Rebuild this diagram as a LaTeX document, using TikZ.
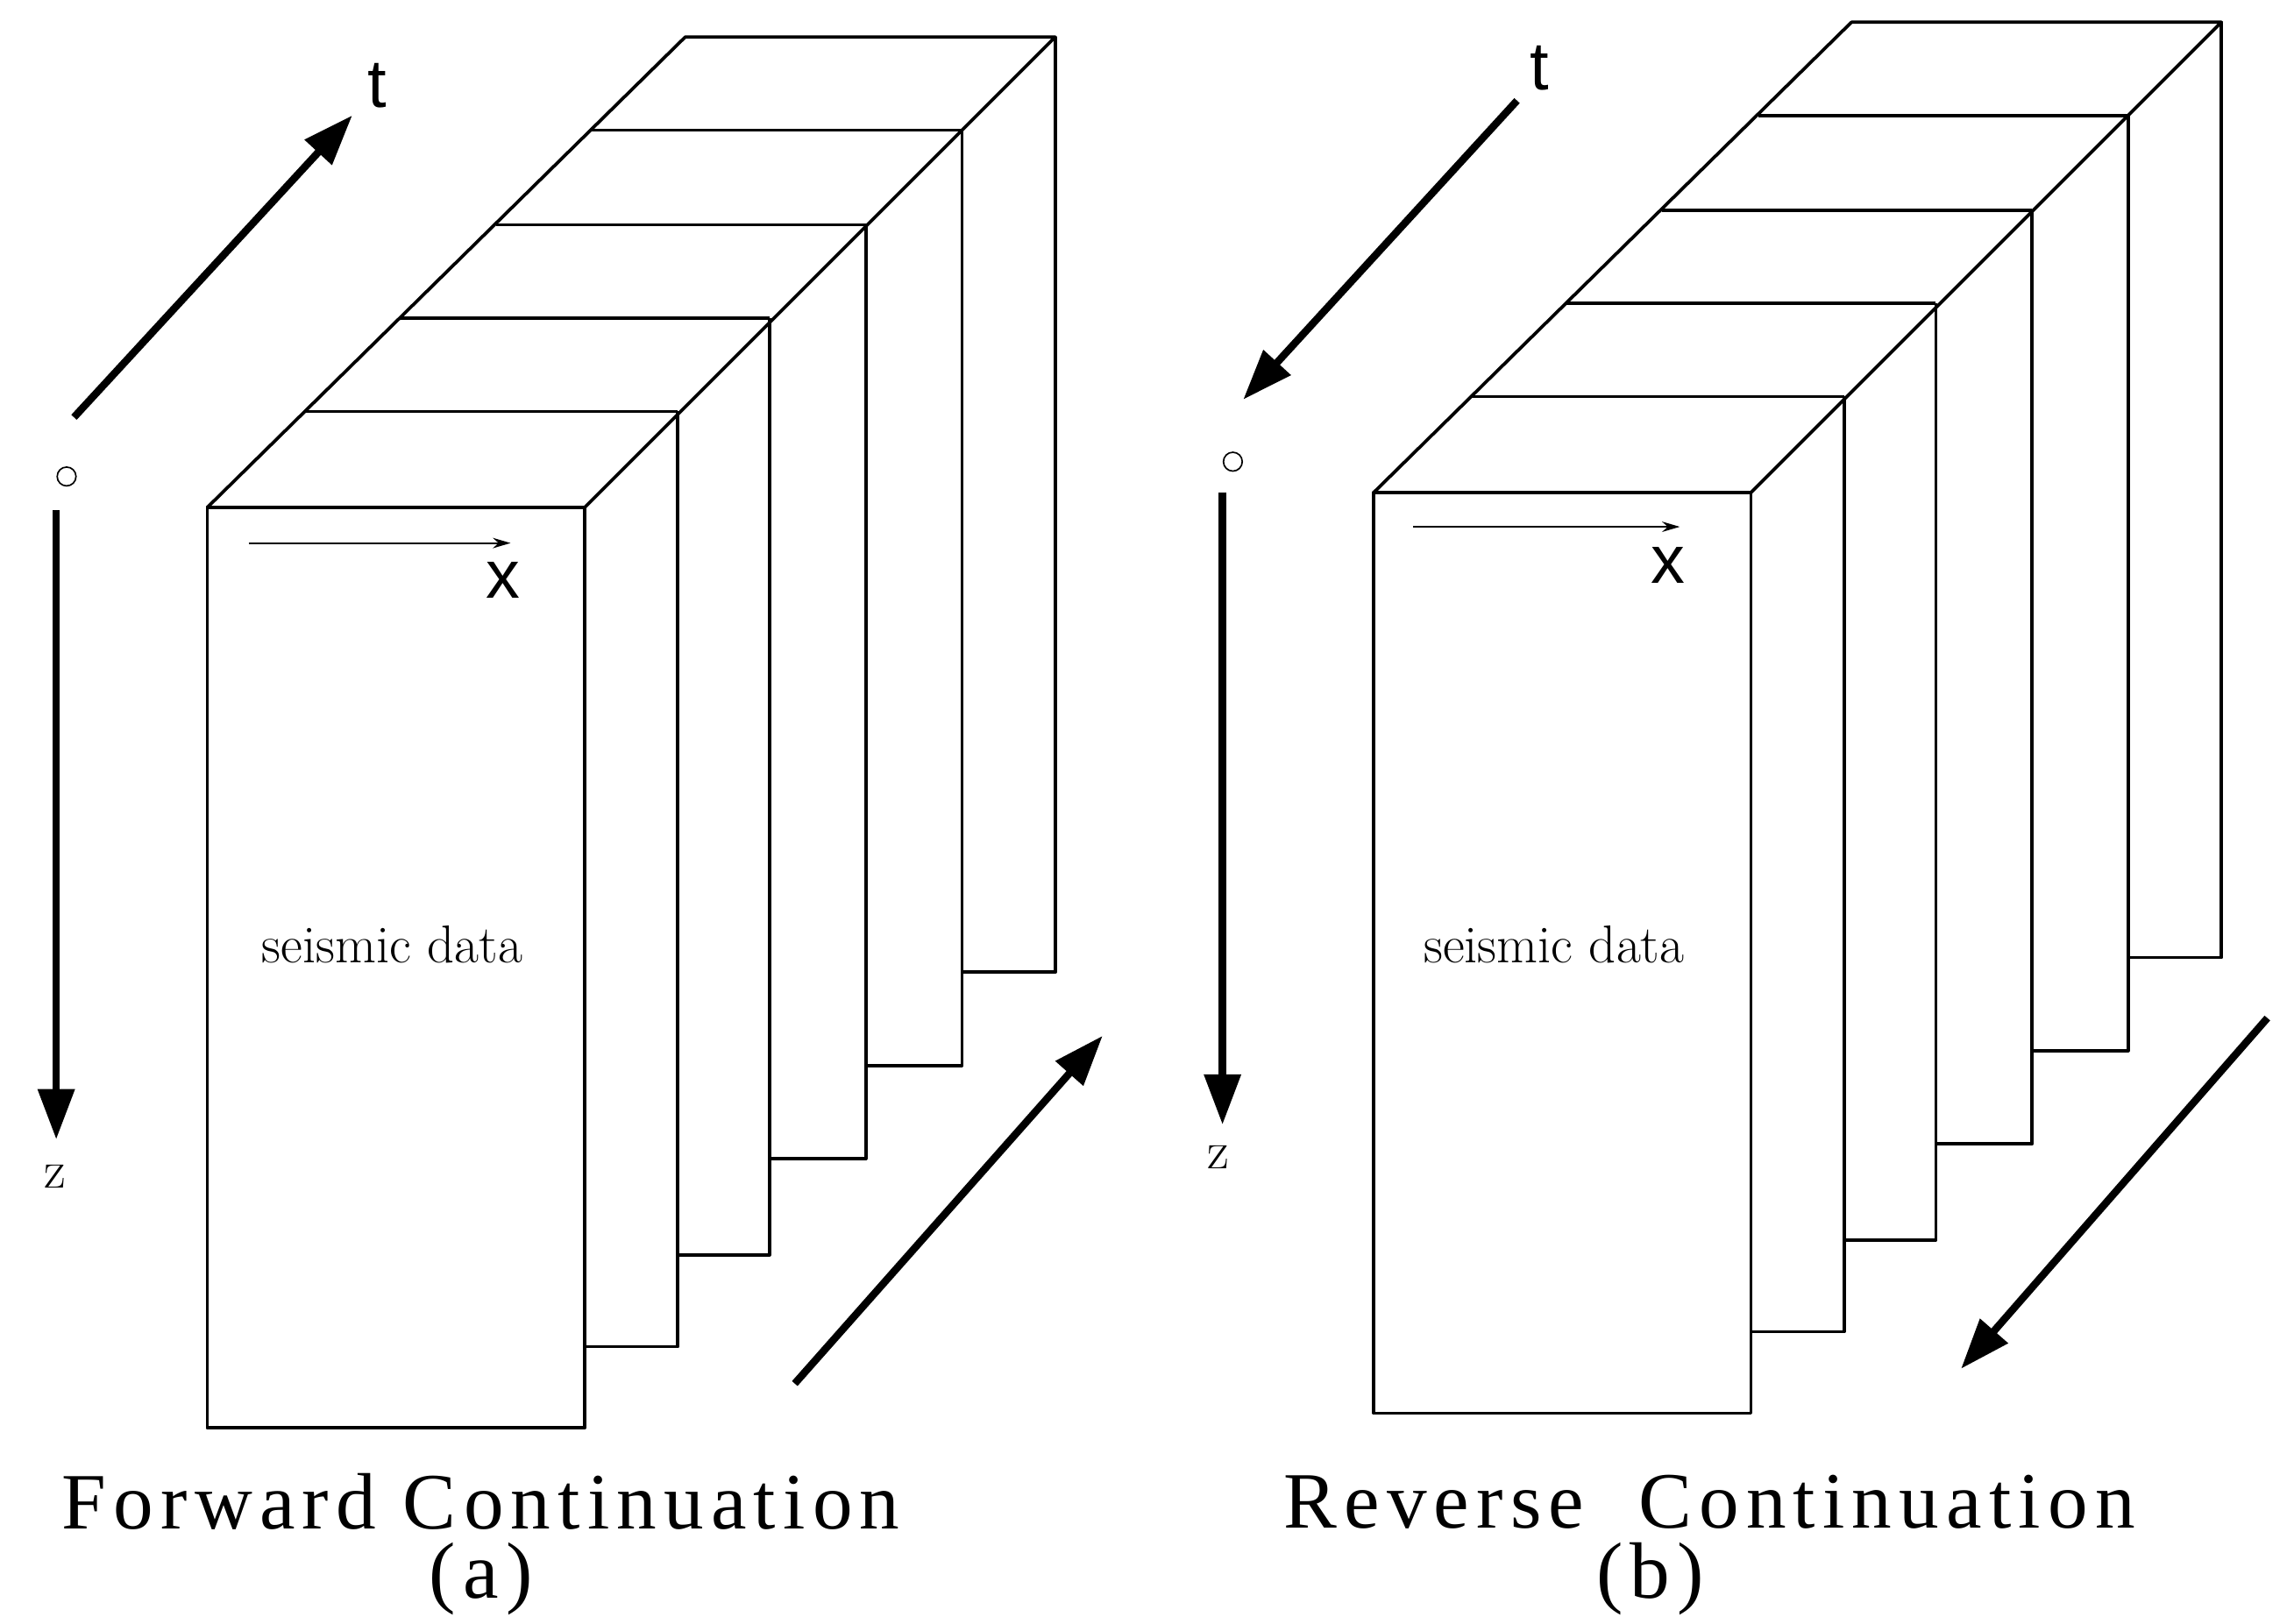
\documentclass[tikz,border=0pt]{standalone}
\usepackage{fontspec}
\newfontfamily\sansf{Liberation Sans}
\newfontfamily\ttlf{Liberation Serif}[LetterSpace=9]
\usetikzlibrary{arrows.meta}
\begin{document}
\begin{tikzpicture}[x=1pt,y=-1pt,
  edge/.style={line width=2.2pt,line join=round},
  big/.style={line width=5pt,-{Triangle[length=34pt,width=24pt]}},
  thin/.style={line width=1.2pt,-{Stealth[length=12pt,width=7pt]}},
  ttl/.style={font=\ttlf\fontsize{54}{58}\selectfont},
  sd/.style={font=\fontsize{36}{40}\selectfont},
  ax/.style={font=\sansf\fontsize{46}{50}\selectfont},
  zl/.style={font=\fontsize{36}{40}\selectfont}]
\useasboundingbox (0,0) rectangle (1550,1097);
\fill[white] (0,0) rectangle (1550,1097);
\newcommand{\stack}[2]{%
\begin{scope}[shift={(#1,#2)}]
 \draw[edge] (140,343) rectangle (395,965);
 \draw[edge] (140,343) -- (463,25) -- (713,25) -- (395,343);
 \foreach \xl/\xr/\yt in {206/458/278,270/520/215,335/585/152,400/650/88}{
   \draw[edge] (\xl,\yt) -- (\xr,\yt);}
 \draw[edge] (458,278) -- (458,910) -- (395,910);
 \draw[edge] (520,215) -- (520,848) -- (458,848);
 \draw[edge] (585,152) -- (585,783) -- (520,783);
 \draw[edge] (650,88) -- (650,720) -- (585,720);
 \draw[edge] (713,25) -- (713,657) -- (650,657);
\end{scope}}
% panel a
\stack{0}{0}
\draw[thin] (168,367) -- (345,367);
\node[ax] (xa) at (340,392) {x};
\node[sd] (sa) at (265,638) {seismic data};
\draw[big] (50,282) -- (238,78);
\node[ax] (ta) at (255,58) {t};
\node[draw,circle,line width=1pt,inner sep=4.5pt] (oa) at (45,322) {};
\draw[big] (38,345) -- (38,770);
\node[zl] (za) at (37,795) {z};
\draw[big] (537,935) -- (745,700);
\node[ttl] (fa) at (325,1015) {Forward Continuation};
\node[ttl] (la) at (325,1067) {(a)};
% panel b
\stack{788}{-10}
\draw[thin] (955,356) -- (1135,356);
\node[ax] (xb) at (1127,382) {x};
\node[sd] (sb) at (1050,638) {seismic data};
\draw[big] (1025,68) -- (840,270);
\node[ax] (tb) at (1040,46) {t};
\node[draw,circle,line width=1pt,inner sep=4.5pt] (ob) at (833,312) {};
\draw[big] (826,333) -- (826,760);
\node[zl] (zb) at (823,782) {z};
\draw[big] (1532,688) -- (1325,925);
\node[ttl] (fb) at (1155,1015) {Reverse\ \ Continuation};
\node[ttl] (lb) at (1115,1067) {(b)};
\end{tikzpicture}
\end{document}
